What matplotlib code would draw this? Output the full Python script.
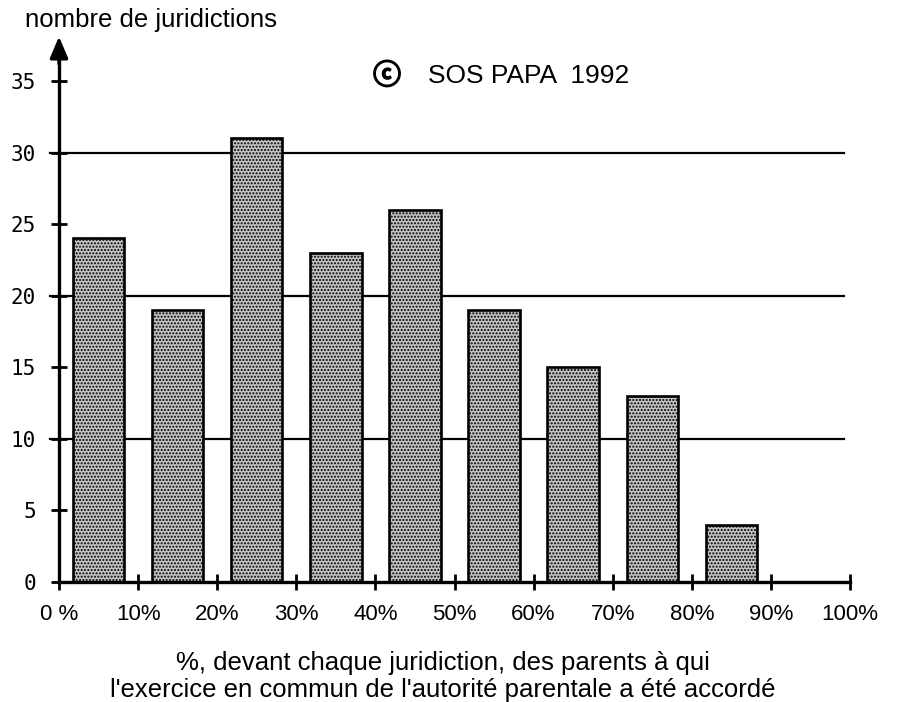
import matplotlib.pyplot as plt
import matplotlib.patheffects as pe
import numpy as np

# bins of 10 % and the number of courts in each
bin_centres = [5, 15, 25, 35, 45, 55, 65, 75, 85]
counts = [24, 19, 31, 23, 26, 19, 15, 13, 4]
x_ticks = [0, 10, 20, 30, 40, 50, 60, 70, 80, 90, 100]
x_labels = ["0 %", "10%", "20%", "30%", "40%", "50%", "60%", "70%", "80%", "90%", "100%"]
y_ticks = [0, 5, 10, 15, 20, 25, 30, 35]
grid_levels = [10, 20, 30]

W, H = 899, 702
fig = plt.figure(figsize=(W / 100, H / 100), dpi=100)

# axes placed so that 0 % sits at x=59 px, 100 % at x=850 px, 0 at y=582 px, 35 at y=81 px
xl, xr = -3, 101
yb, yt = -3, 39
px_x = (850 - 59) / 100
px_y = (582 - 81) / 35
left = 59 + xl * px_x
right = 59 + xr * px_x
bottom = 582 - yb * px_y
top = 582 - yt * px_y
ax = fig.add_axes([left / W, 1 - bottom / H, (right - left) / W, (bottom - top) / H])
ax.set_xlim(xl, xr)
ax.set_ylim(yb, yt)

for g in grid_levels:
    ax.plot([-1.2, 99.3], [g, g], color="black", lw=1.6, zorder=1)

ax.bar(bin_centres, counts, width=6.5, color="#c4c4c4", edgecolor="black",
       linewidth=1.9, hatch=".....", zorder=2)

for s in ["top", "right"]:
    ax.spines[s].set_visible(False)
ax.spines["left"].set_position(("data", 0))
ax.spines["bottom"].set_position(("data", 0))
ax.spines["left"].set_bounds(0, 37)
ax.spines["bottom"].set_bounds(0, 100)
for s in ["left", "bottom"]:
    ax.spines[s].set_linewidth(2.4)
    ax.spines[s].set_zorder(3)
ax.annotate("", xy=(0, 38.3), xytext=(0, 36),
            arrowprops=dict(arrowstyle="-|>,head_length=1.3,head_width=0.55",
                            color="black", lw=2.4))

ax.set_yticks(y_ticks)
ax.set_yticklabels([str(v) for v in y_ticks], family="DejaVu Sans Mono", fontsize=15)
ax.set_xticks(x_ticks)
ax.set_xticklabels(x_labels, family="Liberation Sans", fontsize=16)
ax.tick_params(axis="y", direction="inout", length=11, width=2, pad=11)
ax.tick_params(axis="x", direction="inout", length=11, width=2, pad=10)

fig.text(25 / W, 1 - 20 / H, "nombre de juridictions", family="Liberation Sans",
         fontsize=18.5, ha="left", va="center")
fig.text(387 / W, 1 - 76 / H, "\u24d2",
         family=["Noto Sans CJK JP", "DejaVu Sans"],
         fontsize=20, ha="center", va="center",
         path_effects=[pe.withStroke(linewidth=1.4, foreground="black")])
fig.text(428 / W, 1 - 76 / H, "SOS PAPA  1992", family="Liberation Sans",
         fontsize=19, ha="left", va="center")
fig.text(443 / W, 1 - 663 / H, "%, devant chaque juridiction, des parents à qui",
         family="Liberation Sans", fontsize=18.5, ha="center", va="center")
fig.text(443 / W, 1 - 690 / H, "l'exercice en commun de l'autorité parentale a été accordé",
         family="Liberation Sans", fontsize=18.5, ha="center", va="center")

fig.savefig("out.png", dpi=100)
